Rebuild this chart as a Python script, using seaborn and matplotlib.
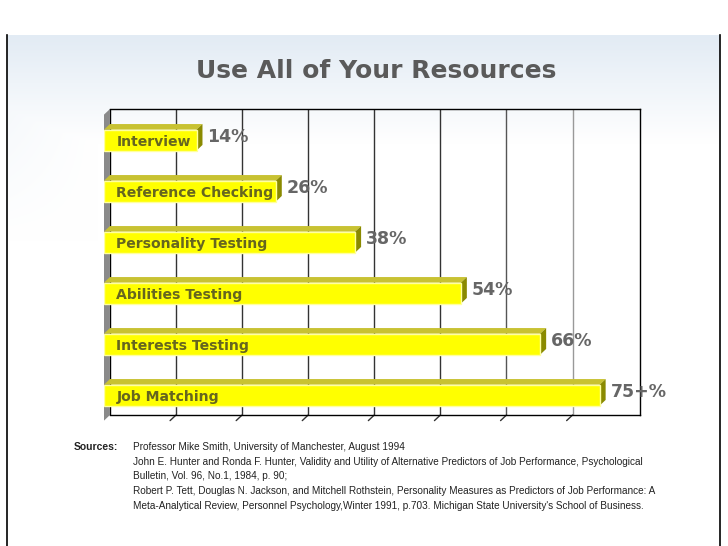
import numpy as np
import pandas as pd
import matplotlib
matplotlib.use("Agg")
import matplotlib.pyplot as plt
from matplotlib.patches import Polygon
import seaborn as sns

# ---- DATA ----
categories = ["Interview", "Reference Checking", "Personality Testing",
              "Abilities Testing", "Interests Testing", "Job Matching"]
values = [14, 26, 38, 54, 66, 75]
value_labels = ["14%", "26%", "38%", "54%", "66%", "75+%"]
grid_values = [10, 20, 30, 40, 50, 60, 70]
grid_colors = ["#333333", "#333333", "#333333", "#333333", "#333333", "#555555", "#999999"]

source_lines = [
    "Professor Mike Smith, University of Manchester, August 1994",
    "John E. Hunter and Ronda F. Hunter, Validity and Utility of Alternative Predictors of Job Performance, Psychological",
    "Bulletin, Vol. 96, No.1, 1984, p. 90;",
    "Robert P. Tett, Douglas N. Jackson, and Mitchell Rothstein, Personality Measures as Predictors of Job Performance: A",
    "Meta-Analytical Review, Personnel Psychology,Winter 1991, p.703. Michigan State University's School of Business.",
]

df = pd.DataFrame({"Method": categories, "Percent": values})

sns.set_theme(style="white")
plt.rcParams["font.family"] = ["DejaVu Sans"]

W, H = 728, 546
fig = plt.figure(figsize=(W / 100, H / 100), dpi=100)
fig.patch.set_facecolor("white")

# ---- slide background (pale blue fade + side borders) ----
bg = fig.add_axes([7 / W, 0, 713 / W, 511 / H], zorder=0)
ny, nx = 200, 200
yy, xx = np.mgrid[0:ny, 0:nx]
fade_top = np.clip(1 - yy / 42.0, 0, 1) * 0.7
fade_left = np.clip(1 - xx / 25.0, 0, 1) * np.clip(1 - yy / 80.0, 0, 1) * 0.35
alpha = np.maximum(fade_top, fade_left)
blue = np.array([0.84, 0.89, 0.94])
img = 1 - alpha[..., None] * (1 - blue)
bg.imshow(img, aspect="auto", extent=[0, 1, 0, 1], interpolation="bilinear")
bg.set_xticks([])
bg.set_yticks([])
for s in ["top", "bottom"]:
    bg.spines[s].set_visible(False)
for s in ["left", "right"]:
    bg.spines[s].set_color("black")
    bg.spines[s].set_linewidth(1.2)

# ---- chart ----
ax = fig.add_axes([104 / W, 1 - 415 / H, 536 / W, 306 / H], zorder=1)
ax.patch.set_alpha(0)

xmax = 81.1
dx, dy = 0.9, 0.11   # 3D depth in data units
bar_h = 0.41

sns.barplot(data=df, x="Percent", y="Method", orient="h", color="#ffff00",
            saturation=1, width=bar_h, edgecolor="#ffffa0", linewidth=1,
            ax=ax, zorder=4)

ax.set_xlim(0, xmax)
ax.set_ylim(len(categories) - 0.61, -0.61)
y_top, y_bot = -0.61, len(categories) - 0.61

# back-wall gridlines
ax.vlines([g + dx for g in grid_values], y_top, y_bot, colors=grid_colors,
          linewidth=1, zorder=1)
ax.vlines(dx, y_top, y_bot, colors="black", linewidth=1, zorder=1)

# left side wall
ax.add_patch(Polygon([(0, y_top + dy), (dx, y_top), (dx, y_bot), (0, y_bot + dy)],
                     closed=True, facecolor="#8a8a8a", edgecolor="none",
                     zorder=2, clip_on=False))

# slanted ticks at bottom
for g in grid_values:
    ax.plot([g + dx, g], [y_bot, y_bot + dy], color="#333333", lw=1,
            clip_on=False, zorder=2)

# 3D faces + labels
for patch, name, lab in zip(ax.patches[:len(values)], categories, value_labels):
    x0 = patch.get_x()
    w = patch.get_width()
    yt = patch.get_y()
    hh = patch.get_height()
    yb = yt + hh
    yc = yt + hh / 2
    top = Polygon([(x0, yt), (x0 + w, yt), (x0 + w + dx, yt - dy), (x0 + dx, yt - dy)],
                  closed=True, facecolor="#c8c232", edgecolor="none", zorder=3)
    side = Polygon([(x0 + w, yt), (x0 + w + dx, yt - dy), (x0 + w + dx, yb - dy), (x0 + w, yb)],
                   closed=True, facecolor="#8a8a00", edgecolor="none", zorder=3)
    ax.add_patch(top)
    ax.add_patch(side)
    ax.annotate(name, (0, yc), xytext=(9, -1.5), textcoords="offset points",
                ha="left", va="center", fontsize=10.1, fontweight="bold",
                color="#66661f", zorder=6)
    ax.annotate(lab, (x0 + w + dx, yc - dy / 2), xytext=(3.5, 0), textcoords="offset points",
                ha="left", va="center", fontsize=12.5, fontweight="bold",
                color="#666666", zorder=6, annotation_clip=False)

ax.set_xticks([])
ax.set_yticks([])
ax.set_xlabel("")
ax.set_ylabel("")
ax.spines["left"].set_visible(False)
for s in ["top", "bottom", "right"]:
    ax.spines[s].set_visible(True)
    ax.spines[s].set_color("black")
    ax.spines[s].set_linewidth(1)
ax.spines["top"].set_bounds(dx, xmax)
ax.spines["bottom"].set_bounds(dx, xmax)

# ---- title ----
fig.text(376 / W, 1 - 71 / H, "Use All of Your Resources", ha="center", va="center",
         fontsize=18, fontweight="bold", color="#5a5a5a")

# ---- sources ----
fig.text(74 / W, 1 - 447 / H, "Sources:", ha="left", va="center", fontsize=7.5,
         fontweight="bold", color="#222222", family="Liberation Sans")
for line, ypx in zip(source_lines, [447, 462, 476, 491, 506]):
    fig.text(133 / W, 1 - ypx / H, line, ha="left", va="center", fontsize=7.2,
             color="#222222", family="Liberation Sans")

plt.savefig("out.png", dpi=100)
